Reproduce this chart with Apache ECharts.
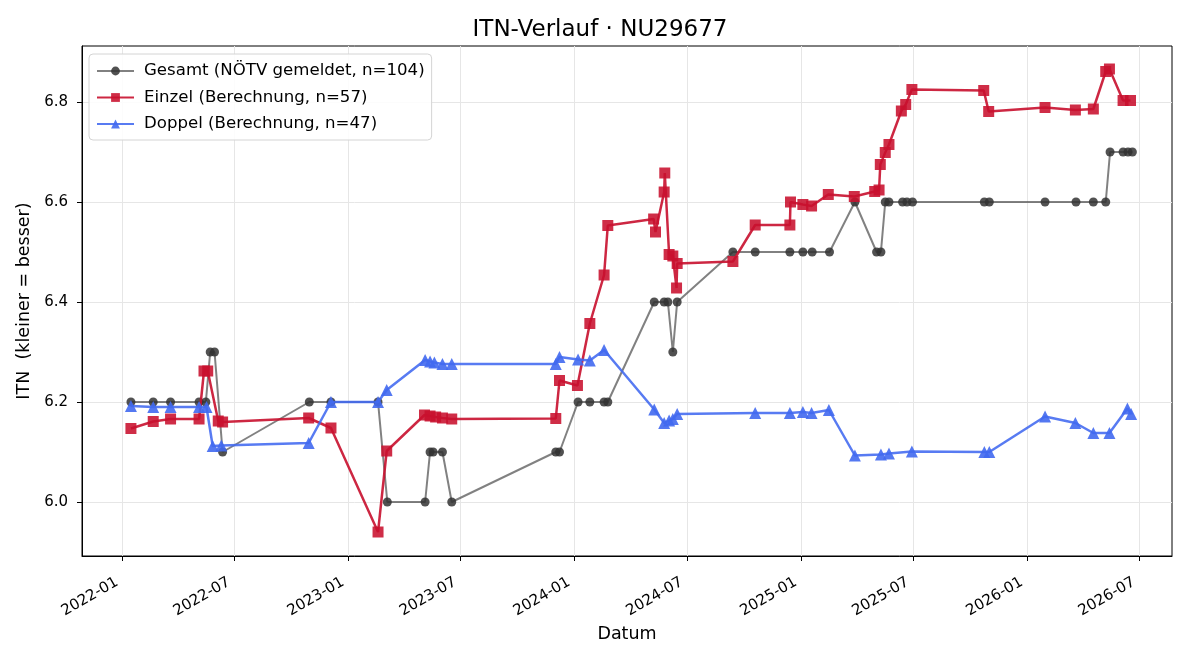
<!DOCTYPE html>
<html>
<head>
<meta charset="utf-8">
<script src="https://cdn.jsdelivr.net/npm/echarts@6/dist/echarts.min.js"></script>
<style>
  html, body { margin: 0; padding: 0; background: #fff; }
  #chart { width: 1200px; height: 660px; }
</style>
</head>
<body>
<div id="chart"></div>
<script>
// Gesamt (NÖTV gemeldet)
const gesamtDates = [
  '2022-01-15', '2022-02-20', '2022-03-20', '2022-05-05', '2022-05-16', '2022-05-23', '2022-05-30', '2022-06-12',
  '2022-10-30', '2022-12-04', '2023-02-18', '2023-03-05', '2023-05-05', '2023-05-13', '2023-05-18', '2023-06-02',
  '2023-06-17', '2023-12-02', '2023-12-08', '2024-01-07', '2024-01-26', '2024-02-18', '2024-02-24', '2024-05-09',
  '2024-05-25', '2024-05-31', '2024-06-08', '2024-06-15', '2024-09-13', '2024-10-19', '2024-12-14', '2025-01-04',
  '2025-01-19', '2025-02-16', '2025-03-29', '2025-05-03', '2025-05-10', '2025-05-17', '2025-05-23', '2025-06-14',
  '2025-06-21', '2025-06-30', '2025-10-24', '2025-11-01', '2026-01-30', '2026-03-21', '2026-04-18', '2026-05-08',
  '2026-05-15', '2026-06-05', '2026-06-13', '2026-06-20'
]
const gesamtValues = [
  6.2, 6.2, 6.2, 6.2, 6.2, 6.3, 6.3, 6.1,
  6.2, 6.2, 6.2, 6.0, 6.0, 6.1, 6.1, 6.1,
  6.0, 6.1, 6.1, 6.2, 6.2, 6.2, 6.2, 6.4,
  6.4, 6.4, 6.3, 6.4, 6.5, 6.5, 6.5, 6.5,
  6.5, 6.5, 6.6, 6.5, 6.5, 6.6, 6.6, 6.6,
  6.6, 6.6, 6.6, 6.6, 6.6, 6.6, 6.6, 6.6,
  6.7, 6.7, 6.7, 6.7
]

// Einzel (Berechnung)
const einzelDates = [
  '2022-01-15', '2022-02-20', '2022-03-20', '2022-05-05', '2022-05-13', '2022-05-19', '2022-06-05', '2022-06-12',
  '2022-10-29', '2022-12-04', '2023-02-18', '2023-03-04', '2023-05-04', '2023-05-13', '2023-05-22', '2023-06-02',
  '2023-06-17', '2023-12-02', '2023-12-08', '2024-01-06', '2024-01-26', '2024-02-18', '2024-02-24', '2024-05-08',
  '2024-05-11', '2024-05-25', '2024-05-26', '2024-06-02', '2024-06-08', '2024-06-14', '2024-06-15', '2024-09-13',
  '2024-10-19', '2024-12-14', '2024-12-15', '2025-01-04', '2025-01-18', '2025-02-14', '2025-03-28', '2025-04-30',
  '2025-05-07', '2025-05-09', '2025-05-17', '2025-05-23', '2025-06-12', '2025-06-19', '2025-06-29', '2025-10-23',
  '2025-10-31', '2026-01-30', '2026-03-20', '2026-04-18', '2026-05-08', '2026-05-14', '2026-06-05', '2026-06-17'
]
const einzelValues = [
  6.147, 6.161, 6.166, 6.166, 6.262, 6.262, 6.162, 6.160,
  6.168, 6.148, 5.940, 6.102, 6.174, 6.172, 6.170, 6.168,
  6.166, 6.167, 6.243, 6.233, 6.357, 6.454, 6.553, 6.566,
  6.540, 6.620, 6.658, 6.495, 6.492, 6.428, 6.477, 6.481,
  6.554, 6.554, 6.600, 6.595, 6.592, 6.615, 6.611, 6.621,
  6.624, 6.675, 6.699, 6.715, 6.782, 6.795, 6.825, 6.823,
  6.781, 6.789, 6.784, 6.786, 6.861, 6.866, 6.803, 6.803
]

// Doppel (Berechnung)
const doppelDates = [
  '2022-01-15', '2022-02-20', '2022-03-20', '2022-05-05', '2022-05-17', '2022-05-27', '2022-06-10', '2022-10-29',
  '2022-12-04', '2023-02-18', '2023-03-04', '2023-05-05', '2023-05-13', '2023-05-20', '2023-06-02', '2023-06-17',
  '2023-12-02', '2023-12-08', '2024-01-07', '2024-01-26', '2024-02-18', '2024-05-09', '2024-05-25', '2024-06-02',
  '2024-06-08', '2024-06-15', '2024-10-19', '2024-12-14', '2025-01-04', '2025-01-18', '2025-02-15', '2025-03-29',
  '2025-05-10', '2025-05-23', '2025-06-29', '2025-10-24', '2025-11-01', '2026-01-30', '2026-03-20', '2026-04-18',
  '2026-05-14', '2026-06-12', '2026-06-18'
]
const doppelValues = [
  6.192, 6.190, 6.190, 6.190, 6.190, 6.112, 6.113, 6.118,
  6.200, 6.200, 6.224, 6.284, 6.281, 6.279, 6.276, 6.276,
  6.276, 6.290, 6.285, 6.283, 6.304, 6.185, 6.158, 6.163,
  6.166, 6.176, 6.178, 6.178, 6.180, 6.178, 6.184, 6.093,
  6.095, 6.097, 6.101, 6.100, 6.100, 6.171, 6.158, 6.138,
  6.138, 6.187, 6.176
]

const xTicks = ['2022-01-01', '2022-07-01', '2023-01-01', '2023-07-01', '2024-01-01',
  '2024-07-01', '2025-01-01', '2025-07-01', '2026-01-01', '2026-07-01']
const yTicks = [6.0, 6.2, 6.4, 6.6, 6.8]

function ts(s) {
  const p = s.split('-')
  return Date.UTC(+p[0], +p[1] - 1, +p[2])
}
function zip(dates, values) {
  const out = []
  for (let i = 0; i < dates.length; i++) {
    out.push([ts(dates[i]), values[i]])
  }
  return out
}

const xTickTs = xTicks.map(ts)
const fontFamily = 'DejaVu Sans'

const chart = echarts.init(document.getElementById('chart'), null, { renderer: 'canvas' })
chart.setOption({
  backgroundColor: '#fff',
  animation: false,
  textStyle: { fontFamily: fontFamily },
  title: {
    text: 'ITN-Verlauf · NU29677',
    left: 'center',
    top: 14,
    textStyle: { fontFamily: fontFamily, fontSize: 23, fontWeight: 'normal', color: '#000' }
  },
  legend: {
    left: 89,
    top: 54,
    orient: 'vertical',
    itemWidth: 37,
    itemHeight: 11,
    itemGap: 9.5,
    padding: [8.5, 7, 7.5, 7],
    backgroundColor: 'rgba(255,255,255,0.85)',
    borderColor: '#d4d4d4',
    borderWidth: 1,
    borderRadius: 4,
    textStyle: { fontFamily: fontFamily, fontSize: 16.6, color: '#000', padding: [0, 0, 0, 5] },
    data: ['Gesamt (NÖTV gemeldet, n=104)', 'Einzel (Berechnung, n=57)', 'Doppel (Berechnung, n=47)']
  },
  grid: {
    left: 82,
    right: 28,
    top: 46,
    bottom: 104,
    show: true,
    borderColor: '#000',
    borderWidth: 1,
    backgroundColor: 'transparent'
  },
  xAxis: {
    type: 'value',
    min: ts('2021-10-28'),
    max: ts('2026-08-23'),
    name: 'Datum',
    nameLocation: 'middle',
    nameGap: 68,
    nameTextStyle: { fontFamily: fontFamily, fontSize: 17.5, color: '#000' },
    axisLine: { show: true, onZero: false, lineStyle: { color: '#000', width: 1 } },
    axisTick: { show: true, inside: false, length: 5, customValues: xTickTs, lineStyle: { color: '#000' } },
    axisLabel: {
      customValues: xTickTs,
      rotate: 30,
      margin: 22,
      padding: [0, 6, 0, 0],
      fontFamily: fontFamily,
      fontSize: 15,
      color: '#000',
      formatter: function (v) {
        const d = new Date(v)
        const m = d.getUTCMonth() + 1
        return d.getUTCFullYear() + '-' + (m < 10 ? '0' + m : m)
      }
    },
    splitLine: { show: true, lineStyle: { color: '#e6e6e6', width: 1 } }
  },
  yAxis: {
    type: 'value',
    min: 5.892,
    max: 6.912,
    name: 'ITN  (kleiner = besser)',
    nameLocation: 'middle',
    nameGap: 48,
    nameTextStyle: { fontFamily: fontFamily, fontSize: 17.5, color: '#000' },
    axisLine: { show: true, lineStyle: { color: '#000', width: 1 } },
    axisTick: { show: true, inside: false, length: 5, customValues: yTicks, lineStyle: { color: '#000' } },
    axisLabel: {
      customValues: yTicks,
      margin: 14,
      fontFamily: fontFamily,
      fontSize: 15,
      color: '#000',
      formatter: function (v) { return v.toFixed(1) }
    },
    splitLine: { show: true, lineStyle: { color: '#e6e6e6', width: 1 } }
  },
  series: [
    {
      name: 'Gesamt (NÖTV gemeldet, n=104)',
      type: 'line',
      data: zip(gesamtDates, gesamtValues),
      symbol: 'circle',
      symbolSize: 9,
      showAllSymbol: true,
      lineStyle: { color: 'rgba(70,70,70,0.68)', width: 2 },
      itemStyle: { color: 'rgba(50,50,50,0.85)' },
      z: 2
    },
    {
      name: 'Einzel (Berechnung, n=57)',
      type: 'line',
      data: zip(einzelDates, einzelValues),
      symbol: 'rect',
      symbolSize: 11,
      showAllSymbol: true,
      lineStyle: { color: 'rgba(200,16,46,0.9)', width: 2.5 },
      itemStyle: { color: 'rgba(200,16,46,0.88)' },
      z: 3
    },
    {
      name: 'Doppel (Berechnung, n=47)',
      type: 'line',
      data: zip(doppelDates, doppelValues),
      symbol: 'triangle',
      symbolSize: 12,
      showAllSymbol: true,
      lineStyle: { color: 'rgba(65,105,240,0.88)', width: 2.5 },
      itemStyle: { color: 'rgba(65,105,240,0.9)' },
      z: 4
    }
  ]
})
</script>
</body>
</html>
